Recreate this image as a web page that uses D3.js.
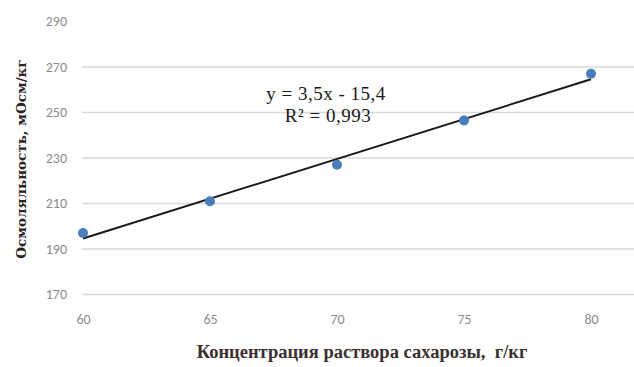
<!DOCTYPE html>
<html>
<head>
<meta charset="utf-8">
<script src="https://cdn.jsdelivr.net/npm/d3@7"></script>
<style>
  html, body { margin: 0; padding: 0; background: #fff; }
  svg { display: block; }
</style>
</head>
<body>
<svg id="chart" width="634" height="367"></svg>
<script>
// Sucrose concentration (g/kg) vs. osmolality (mOsm/kg)
const concentration = [60, 65, 70, 75, 80];
const osmolality = [197, 211, 227, 246.5, 267];
const xTicks = [60, 65, 70, 75, 80];
const yTicks = [170, 190, 210, 230, 250, 270, 290];
const trendSlope = 3.5;
const trendIntercept = -15.4;
const equationLines = ["y = 3,5x - 15,4", "R² = 0,993"];
const xTitle = "Концентрация раствора сахарозы,  г/кг";
const yTitle = "Осмоляльность, мОсм/кг";

const svg = d3.select("#chart");

const x = d3.scaleLinear().domain([60, 80]).range([83, 591]);
const y = d3.scaleLinear().domain([170, 290]).range([294.5, 21.5]);

// horizontal gridlines (top value has no line)
svg.append("g")
  .selectAll("line")
  .data(yTicks.filter(v => v < 290))
  .join("line")
  .attr("x1", 82).attr("x2", 634)
  .attr("y1", d => y(d)).attr("y2", d => y(d))
  .attr("stroke", "#d9d9d9").attr("stroke-width", 1.3);

const tickFont = g => g.selectAll("text")
  .attr("fill", "#8c8c8c")
  .attr("font-family", "Carlito, 'Liberation Sans', sans-serif")
  .attr("font-size", 14);

// y axis labels
svg.append("g")
  .attr("transform", "translate(67,0)")
  .call(d3.axisLeft(y).tickValues(yTicks).tickSize(0).tickPadding(0))
  .call(g => g.select(".domain").remove())
  .call(tickFont);

// x axis labels
svg.append("g")
  .attr("transform", "translate(0,314)")
  .call(d3.axisBottom(x).tickValues(xTicks).tickSize(0).tickPadding(0))
  .call(g => g.select(".domain").remove())
  .call(tickFont);

// linear trendline
const trend = xd => trendSlope * xd + trendIntercept;
svg.append("line")
  .attr("x1", x(60)).attr("y1", y(trend(60)))
  .attr("x2", x(80)).attr("y2", y(trend(80)))
  .attr("stroke", "#1a1a1a").attr("stroke-width", 2);

// data points
svg.append("g")
  .selectAll("circle")
  .data(concentration.map((c, i) => [c, osmolality[i]]))
  .join("circle")
  .attr("cx", d => x(d[0]))
  .attr("cy", d => y(d[1]))
  .attr("r", 5)
  .attr("fill", "#4a7ebb");

// trendline equation
svg.append("g")
  .attr("font-family", "'Liberation Serif', 'Times New Roman', serif")
  .attr("font-size", 19)
  .attr("letter-spacing", 0.5)
  .attr("fill", "#1a1a1a")
  .attr("text-anchor", "middle")
  .selectAll("text")
  .data(equationLines)
  .join("text")
  .attr("x", (d, i) => i === 0 ? 326 : 328)
  .attr("y", (d, i) => 100 + i * 22)
  .text(d => d);

// axis titles
svg.append("text")
  .attr("x", 362).attr("y", 358)
  .attr("text-anchor", "middle")
  .style("white-space", "pre")
  .attr("font-family", "'Liberation Serif', serif")
  .attr("font-weight", "bold")
  .attr("font-size", 18.5)
  .attr("fill", "#3a3030")
  .text(xTitle);

svg.append("text")
  .attr("transform", "translate(26,159) rotate(-90)")
  .attr("text-anchor", "middle")
  .attr("font-family", "'DejaVu Serif', serif")
  .attr("font-weight", "bold")
  .attr("font-size", 13.5)
  .attr("fill", "#2a2424")
  .text(yTitle);
</script>
</body>
</html>
